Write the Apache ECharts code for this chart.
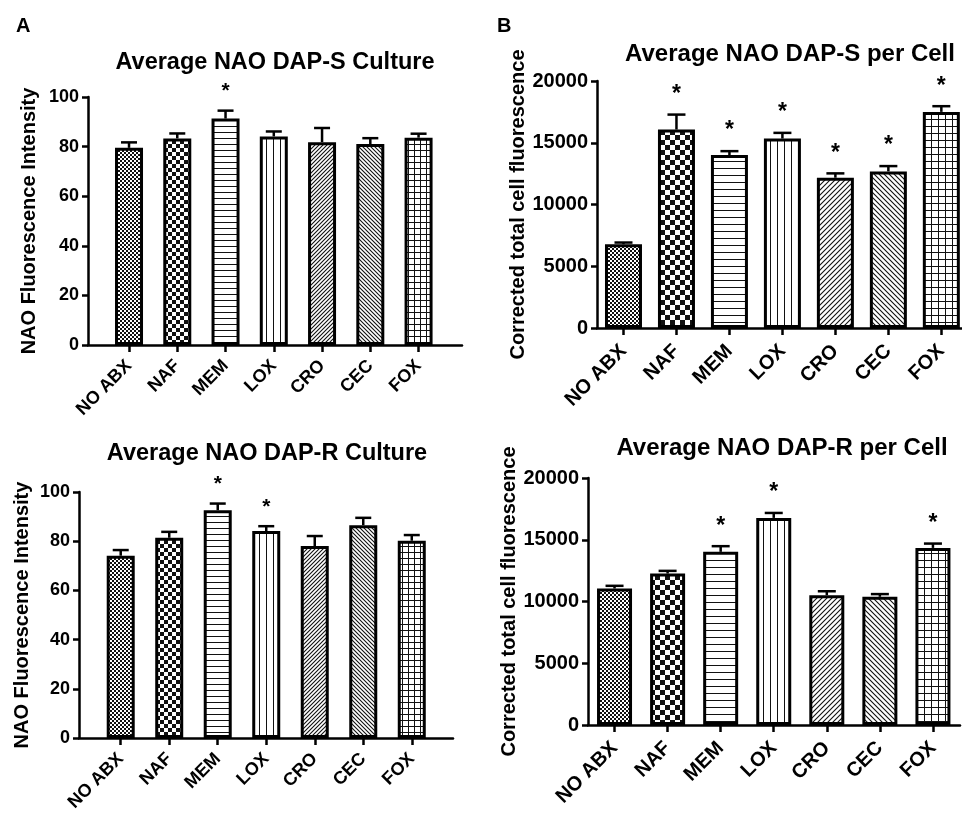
<!DOCTYPE html>
<html>
<head>
<meta charset="utf-8">
<script src="https://cdn.jsdelivr.net/npm/echarts@6/dist/echarts.min.js"></script>
<style>
html, body { margin: 0; padding: 0; background: #fff; }
#main { width: 962px; height: 814px; }
</style>
</head>
<body>
<div id="main"></div>
<script>
const categories = ['NO ABX', 'NAF', 'MEM', 'LOX', 'CRO', 'CEC', 'FOX'];
const positions = [1, 2, 3, 4, 5, 6, 7];

// A, top: culture, DAP-S
const cultureSMean = [79.5, 83.3, 91.3, 84.1, 81.8, 81.0, 83.6];
const cultureSErr = [2.2, 2.0, 3.2, 2.0, 5.7, 2.4, 1.6];
const cultureSStar = [0, 0, 1, 0, 0, 0, 0];

// A, bottom: culture, DAP-R
const cultureRMean = [74.1, 81.4, 92.6, 84.1, 78.0, 86.5, 80.2];
const cultureRErr = [2.3, 2.4, 2.7, 2.0, 4.1, 3.0, 2.3];
const cultureRStar = [0, 0, 1, 1, 0, 0, 0];

// B, top: per cell, DAP-S
const cellSMean = [6780, 16070, 14000, 15340, 12170, 12680, 17500];
const cellSErr = [140, 1210, 320, 460, 350, 430, 460];
const cellSStar = [0, 1, 1, 1, 1, 1, 1];

// B, bottom: per cell, DAP-R
const cellRMean = [11050, 12260, 14020, 16770, 10510, 10380, 14340];
const cellRErr = [220, 220, 460, 400, 320, 220, 350];
const cellRStar = [0, 0, 1, 1, 0, 0, 1];

const FONT = '"Liberation Sans", Arial, Helvetica, sans-serif';
const patternKinds = ['fine', 'coarse', 'hline', 'vline', 'diagR', 'diagL', 'grid'];

// small repeating canvas tiles for the hatch fills
function makePattern(kind, big) {
  const c = document.createElement('canvas');
  let n;
  switch (kind) {
    case 'fine': n = 4; break;
    case 'coarse': n = big ? 10 : 8; break;
    case 'hline': n = big ? 7 : 6; break;
    case 'vline': n = 7; break;
    case 'diagR':
    case 'diagL': n = big ? 5 : 4; break;
    case 'grid': n = big ? 7 : 6; break;
  }
  c.width = n;
  c.height = n;
  const ctx = c.getContext('2d');
  ctx.fillStyle = '#fff';
  ctx.fillRect(0, 0, n, n);
  ctx.fillStyle = '#111';
  ctx.strokeStyle = '#111';
  const h = n / 2;
  switch (kind) {
    case 'fine':
    case 'coarse':
      ctx.fillRect(0, 0, h, h);
      ctx.fillRect(h, h, h, h);
      break;
    case 'hline':
      ctx.fillRect(0, 0, n, 1);
      break;
    case 'vline':
      ctx.fillRect(0, 0, 1, n);
      break;
    case 'grid':
      ctx.fillRect(0, 0, n, 1);
      ctx.fillRect(0, 0, 1, n);
      break;
    case 'diagR':
      ctx.lineWidth = 1.1;
      ctx.beginPath();
      ctx.moveTo(-1, n + 1); ctx.lineTo(n + 1, -1);
      ctx.moveTo(-1, 1); ctx.lineTo(1, -1);
      ctx.moveTo(n - 1, n + 1); ctx.lineTo(n + 1, n - 1);
      ctx.stroke();
      break;
    case 'diagL':
      ctx.lineWidth = 1.1;
      ctx.beginPath();
      ctx.moveTo(-1, -1); ctx.lineTo(n + 1, n + 1);
      ctx.moveTo(n - 1, -1); ctx.lineTo(n + 1, 1);
      ctx.moveTo(-1, n - 1); ctx.lineTo(1, n + 1);
      ctx.stroke();
      break;
  }
  return { image: c, repeat: 'repeat' };
}

const smallPatterns = patternKinds.map(k => makePattern(k, false));
const bigPatterns = patternKinds.map(k => makePattern(k, true));

const textStyle = { color: '#000', fontWeight: 'bold', fontFamily: FONT };

function barSeries(idx, means, pats, width) {
  return {
    type: 'bar',
    xAxisIndex: idx,
    yAxisIndex: idx,
    barWidth: width,
    silent: true,
    itemStyle: { borderColor: '#000', borderWidth: 3 },
    data: means.map((m, i) => ({ value: [positions[i], m], itemStyle: { color: pats[i] } }))
  };
}

function errorSeries(idx, means, errs, stars, cap, starSize, starGap) {
  return {
    type: 'custom',
    xAxisIndex: idx,
    yAxisIndex: idx,
    silent: true,
    z: 5,
    encode: { x: 0, y: 1 },
    data: means.map((m, i) => [positions[i], m, m + errs[i], stars[i]]),
    renderItem: function (params, api) {
      const x = api.value(0);
      const p0 = api.coord([x, api.value(1)]);
      const p1 = api.coord([x, api.value(2)]);
      const line = { stroke: '#000', lineWidth: 2.5 };
      const children = [
        { type: 'line', shape: { x1: p0[0], y1: p0[1], x2: p1[0], y2: p1[1] }, style: line },
        { type: 'line', shape: { x1: p1[0] - cap, y1: p1[1], x2: p1[0] + cap, y2: p1[1] }, style: line }
      ];
      if (api.value(3)) {
        children.push({
          type: 'text',
          x: p1[0],
          y: p1[1] - starGap,
          style: {
            text: '*',
            fill: '#000',
            font: 'bold ' + starSize + 'px ' + FONT,
            textAlign: 'center',
            textVerticalAlign: 'middle'
          }
        });
      }
      return { type: 'group', children: children };
    }
  };
}

function xAxis(idx, min, max, fontSize, margin) {
  return {
    gridIndex: idx,
    type: 'value',
    min: min,
    max: max,
    axisLine: { show: true, onZero: false, lineStyle: { color: '#000', width: 2.5 } },
    axisTick: { show: true, customValues: positions, length: 7, lineStyle: { color: '#000', width: 2.5 } },
    axisLabel: {
      customValues: positions,
      formatter: v => categories[Math.round(v) - 1],
      rotate: 45,
      margin: margin,
      fontSize: fontSize,
      ...textStyle
    },
    splitLine: { show: false }
  };
}

function yAxis(idx, max, interval, name, fontSize, nameGap) {
  return {
    gridIndex: idx,
    type: 'value',
    min: 0,
    max: max,
    interval: interval,
    axisLine: { show: true, lineStyle: { color: '#000', width: 2.5 } },
    axisTick: { show: true, length: 6, lineStyle: { color: '#000', width: 2.5 } },
    axisLabel: { fontSize: fontSize, margin: 9, formatter: v => String(v), ...textStyle },
    splitLine: { show: false },
    name: name,
    nameLocation: 'middle',
    nameGap: nameGap,
    nameTextStyle: { fontSize: 20, ...textStyle }
  };
}

function title(text, left, top, size) {
  return {
    text: text,
    left: left,
    top: top,
    textAlign: 'center',
    padding: 0,
    textStyle: { fontSize: size, ...textStyle }
  };
}

const chart = echarts.init(document.getElementById('main'));
chart.setOption({
  animation: false,
  backgroundColor: '#fff',
  title: [
    { text: 'A', left: 16, top: 16, padding: 0, textStyle: { fontSize: 20, ...textStyle } },
    { text: 'B', left: 497, top: 16, padding: 0, textStyle: { fontSize: 20, ...textStyle } },
    title('Average NAO DAP-S Culture', 275, 51, 23.5),
    title('Average NAO DAP-S per Cell', 790, 42, 24),
    title('Average NAO DAP-R Culture', 267, 442, 23.5),
    title('Average NAO DAP-R per Cell', 782, 436, 24)
  ],
  grid: [
    { left: 88, top: 97, width: 374, height: 248 },
    { left: 597, top: 81, width: 365, height: 247 },
    { left: 79, top: 492, width: 374, height: 247 },
    { left: 588, top: 478, width: 372, height: 247 }
  ],
  xAxis: [
    xAxis(0, 0.15, 7.9, 18, 18),
    xAxis(1, 0.5, 7.39, 20, 20),
    xAxis(2, 0.14, 7.85, 18, 18),
    xAxis(3, 0.5, 7.51, 20, 20)
  ],
  yAxis: [
    yAxis(0, 100, 20, 'NAO Fluorescence Intensity', 18, 48.5),
    yAxis(1, 20000, 5000, 'Corrected total cell fluorescence', 20, 67),
    yAxis(2, 100, 20, 'NAO Fluorescence Intensity', 18, 47),
    yAxis(3, 20000, 5000, 'Corrected total cell fluorescence', 20, 66)
  ],
  series: [
    barSeries(0, cultureSMean, smallPatterns, 28),
    errorSeries(0, cultureSMean, cultureSErr, cultureSStar, 8, 21, 19),
    barSeries(1, cellSMean, bigPatterns, 37),
    errorSeries(1, cellSMean, cellSErr, cellSStar, 9, 23, 20),
    barSeries(2, cultureRMean, smallPatterns, 28),
    errorSeries(2, cultureRMean, cultureRErr, cultureRStar, 8, 21, 19),
    barSeries(3, cellRMean, bigPatterns, 35),
    errorSeries(3, cellRMean, cellRErr, cellRStar, 9, 23, 20)
  ]
});
</script>
</body>
</html>
